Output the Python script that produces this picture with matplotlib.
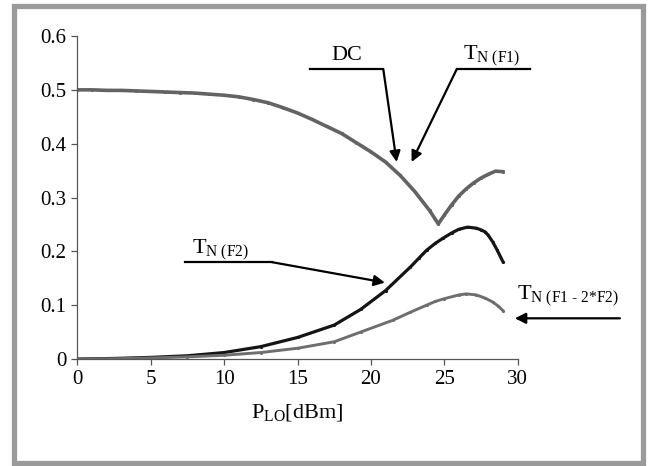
import matplotlib
matplotlib.use("Agg")
import matplotlib.pyplot as plt
from matplotlib.patches import Rectangle

plt.rcParams["font.family"] = "Liberation Serif"
plt.rcParams["mathtext.fontset"] = "custom"
plt.rcParams["mathtext.rm"] = "Liberation Serif"

# DC / T_N(F1) curve (one trace with a notch at ~24.6 dBm)
dc_x = [0, 1, 2, 3, 4, 5, 6, 7, 8, 9, 10, 11, 12, 13, 14, 15, 16, 17, 18, 19,
        20, 21, 22, 23, 24, 24.6, 25, 25.5, 26, 26.5, 27, 27.5, 28, 28.5, 29]
dc_y = [0.500, 0.500, 0.499, 0.499, 0.498, 0.497, 0.496, 0.495, 0.494, 0.492,
        0.490, 0.487, 0.482, 0.476, 0.467, 0.457, 0.445, 0.432, 0.419, 0.402,
        0.385, 0.366, 0.341, 0.311, 0.276, 0.251, 0.267, 0.286, 0.303, 0.316,
        0.327, 0.336, 0.343, 0.349, 0.348]

# T_N(F2)
f2_x = [0, 2.5, 5, 7.5, 10, 12.5, 15, 17.5, 19.3, 21, 22.7, 23.3, 23.8, 24.4,
        24.9, 25.5, 26, 26.6, 27.2, 27.5, 27.8, 28.0, 28.3, 28.6, 29]
f2_y = [0.000, 0.001, 0.003, 0.006, 0.012, 0.023, 0.040, 0.063, 0.092, 0.127,
        0.171, 0.188, 0.202, 0.215, 0.224, 0.234, 0.241, 0.245, 0.243, 0.240,
        0.236, 0.230, 0.218, 0.203, 0.181]

# T_N(F1 - 2*F2)
im_x = [0, 2.5, 5, 7.5, 10, 12.5, 15, 17.5, 19.3, 21.5, 22.7, 23.8, 24.4, 25,
        26, 26.5, 27.2, 27.8, 28.3, 28.7, 29]
im_y = [0.000, 0.0005, 0.002, 0.004, 0.007, 0.012, 0.020, 0.032, 0.050, 0.072,
        0.087, 0.100, 0.107, 0.112, 0.119, 0.121, 0.119, 0.113, 0.106, 0.098,
        0.090]

x_ticks = [0, 5, 10, 15, 20, 25, 30]
y_ticks = [0, 0.1, 0.2, 0.3, 0.4, 0.5, 0.6]

fig = plt.figure(figsize=(6.49, 4.66), dpi=100)
ax = fig.add_axes([0.1194, 0.2296, 0.678, 0.6931])

ax.plot(dc_x, dc_y, color="#636363", lw=2.6, marker=".", ms=2.5)
ax.plot(f2_x, f2_y, color="#151515", lw=2.3, marker=".", ms=2.5)
ax.plot(im_x, im_y, color="#6e6e6e", lw=2.1, marker=".", ms=2.5)

ax.set_xlim(0, 30)
ax.set_ylim(0, 0.6)
ax.set_xticks(x_ticks)
ax.set_yticks(y_ticks)
ax.set_yticklabels(["0"] + [f"{v:.1f}" for v in y_ticks[1:]])
for s in ("top", "right"):
    ax.spines[s].set_visible(False)
for s in ("left", "bottom"):
    ax.spines[s].set_color("#555555")
    ax.spines[s].set_linewidth(0.9)
ax.tick_params(direction="out", length=4, width=0.9, color="#555555",
               labelsize=15, pad=4)
ax.set_xlabel(r"P$_{\text{LO}}$[dBm]", fontsize=16, labelpad=10)


def arrow(start, tip):
    ax.annotate("", xy=tip, xytext=start, annotation_clip=False,
                arrowprops=dict(arrowstyle="-|>", color="black", lw=1.6,
                                mutation_scale=16, shrinkA=0, shrinkB=0))


def callout(x0, x1, y0, tip):
    ax.plot([x0, x1], [y0, y0], color="black", lw=1.6, clip_on=False)
    arrow((x1, y0), tip)


callout(15.85, 20.85, 0.538, (21.76, 0.366))
callout(30.85, 25.85, 0.538, (22.78, 0.366))
callout(7.33, 13.24, 0.180, (20.96, 0.142))
arrow((36.98, 0.0756), (29.82, 0.0756))

ax.text(18.35, 0.555, "DC", fontsize=16, ha="center", va="baseline")
ax.text(26.3, 0.555, r"T$_{\text{N (F1)}}$", fontsize=16, ha="left",
        va="baseline")
ax.text(7.78, 0.196, r"T$_{\text{N (F2)}}$", fontsize=16, ha="left",
        va="baseline")
ax.text(29.94, 0.1096, r"T$_{\text{N (F1 - 2*F2)}}$", fontsize=16,
        ha="left", va="baseline", clip_on=False)

# grey frame around the whole picture
fig.add_artist(Rectangle((14 / 649, 3 / 466), 629 / 649, 457 / 466,
                         transform=fig.transFigure, fill=False,
                         edgecolor="#9a9a9a", lw=3.8))

fig.savefig("out.png", dpi=100)
